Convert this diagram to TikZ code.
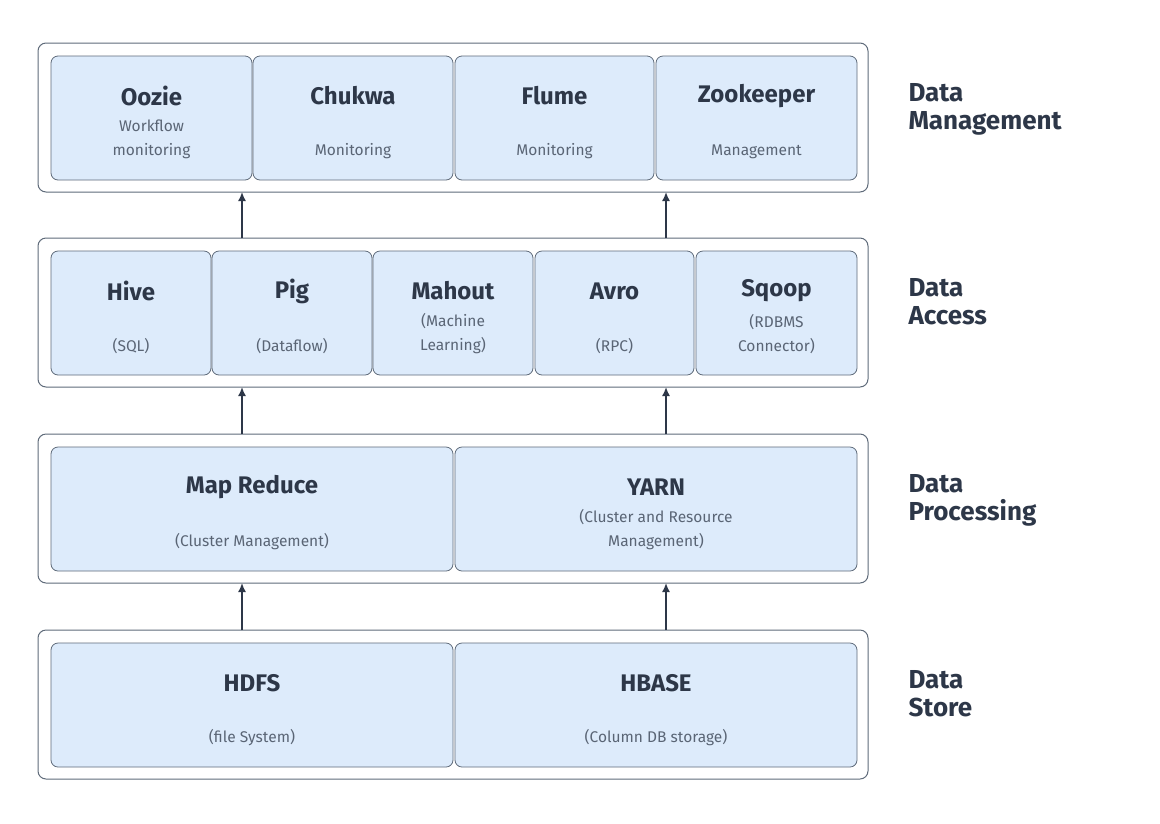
\documentclass[tikz,border=0pt]{standalone}
\usepackage{fontspec}
\setmainfont{Fira Sans}
\usetikzlibrary{arrows.meta}
\definecolor{bx}{HTML}{DDEBFB}
\definecolor{ln}{HTML}{5F6B7A}
\definecolor{tx}{HTML}{2D3748}
\definecolor{sub}{HTML}{5A6575}
\begin{document}
\begin{tikzpicture}[x=1pt,y=-1pt,
 outer/.style={draw=ln,line width=1pt,rounded corners=8pt,fill=white},
 inner/.style={draw=ln,line width=0.8pt,rounded corners=7pt,fill=bx},
 ttl/.style={font=\fontsize{24}{28}\selectfont\bfseries,text=tx},
 st/.style={font=\fontsize{15.5}{24}\selectfont,text=sub,align=center},
 lab/.style={font=\fontsize{26}{38}\selectfont\bfseries,text=tx,align=left,anchor=north west},
 arr/.style={-{Latex[length=9pt,width=8pt]},line width=1.6pt,draw=tx}]
\useasboundingbox (0,0) rectangle (1160,823);
% outer frames
\node[outer,minimum width=830pt,minimum height=149pt,inner sep=0] (f1) at (453,117.5) {};
\node[outer,minimum width=830pt,minimum height=149pt,inner sep=0] (f2) at (453,312.5) {};
\node[outer,minimum width=830pt,minimum height=149pt,inner sep=0] (f3) at (453,508.5) {};
\node[outer,minimum width=830pt,minimum height=149pt,inner sep=0] (f4) at (453,704.5) {};
% boxes
\newcommand\bxx[6]{%
 \node[inner,minimum width=#3pt,minimum height=124pt,inner sep=0] (#1) at (#2,#4) {};
 \node[ttl] (#1t) at (#2,#4-22) {#5};
 \node[st,anchor=north] (#1s) at (#2,#4+#6) {#5\\};}
% row 1
\foreach \n/\x/\w/\t/\s/\o in {
 oo/151.5/201/Oozie/{Workflow\\monitoring}/-13,
 ch/353/200/Chukwa/Monitoring/11,
 fl/554.5/199/Flume/Monitoring/11,
 zk/756.5/201/Zookeeper/Management/11}{
 \node[inner,minimum width=\w pt,minimum height=124pt,inner sep=0] (\n) at (\x,118) {};
 \node[ttl] (\n t) at (\x,96) {\t};
 \node[st,anchor=south] (\n s) at (\x,162) {\s};
}
% row 2
\foreach \n/\x/\w/\t/\s in {
 hi/131/160/Hive/(SQL),
 pg/292/160/Pig/(Dataflow),
 ma/453/160/Mahout/{(Machine\\Learning)},
 av/614.5/159/Avro/(RPC),
 sq/776.5/161/Sqoop/{(RDBMS\\Connector)}}{
 \node[inner,minimum width=\w pt,minimum height=124pt,inner sep=0] (\n) at (\x,313) {};
 \node[ttl] (\n t) at (\x,291) {\t};
 \node[st,anchor=south] (\n s) at (\x,357) {\s};
}
% row 3,4
\foreach \n/\x/\y/\t/\s in {
 mr/252/509/Map Reduce/(Cluster Management),
 ya/656/509/YARN/{(Cluster and Resource\\Management)},
 hd/252/705/HDFS/(file System),
 hb/656/705/HBASE/(Column DB storage)}{
 \node[inner,minimum width=402pt,minimum height=124pt,inner sep=0] (\n) at (\x,\y) {};
 \node[ttl] (\n t) at (\x,\y-22) {\t};
 \node[st,anchor=south] (\n s) at (\x,\y+44) {\s};
}
% arrows
\coordinate (a1s) at (242,630); \coordinate (a1e) at (242,583);
\coordinate (a2s) at (666,630); \coordinate (a2e) at (666,583);
\coordinate (b1s) at (242,434); \coordinate (b1e) at (242,387);
\coordinate (b2s) at (666,434); \coordinate (b2e) at (666,387);
\coordinate (c1s) at (242,238); \coordinate (c1e) at (242,192);
\coordinate (c2s) at (666,238); \coordinate (c2e) at (666,192);
\foreach \a in {a1,a2,b1,b2,c1,c2}{\draw[arr] (\a s) -- (\a e);}
% labels
\node[lab] (l1) at (905,80) {Data\\[-10pt]Management};
\node[lab] (l2) at (905,275) {Data\\[-10pt]Access};
\node[lab] (l3) at (905,471) {Data\\[-10pt]Processing};
\node[lab] (l4) at (905,667) {Data\\[-10pt]Store};
\end{tikzpicture}
\end{document}
